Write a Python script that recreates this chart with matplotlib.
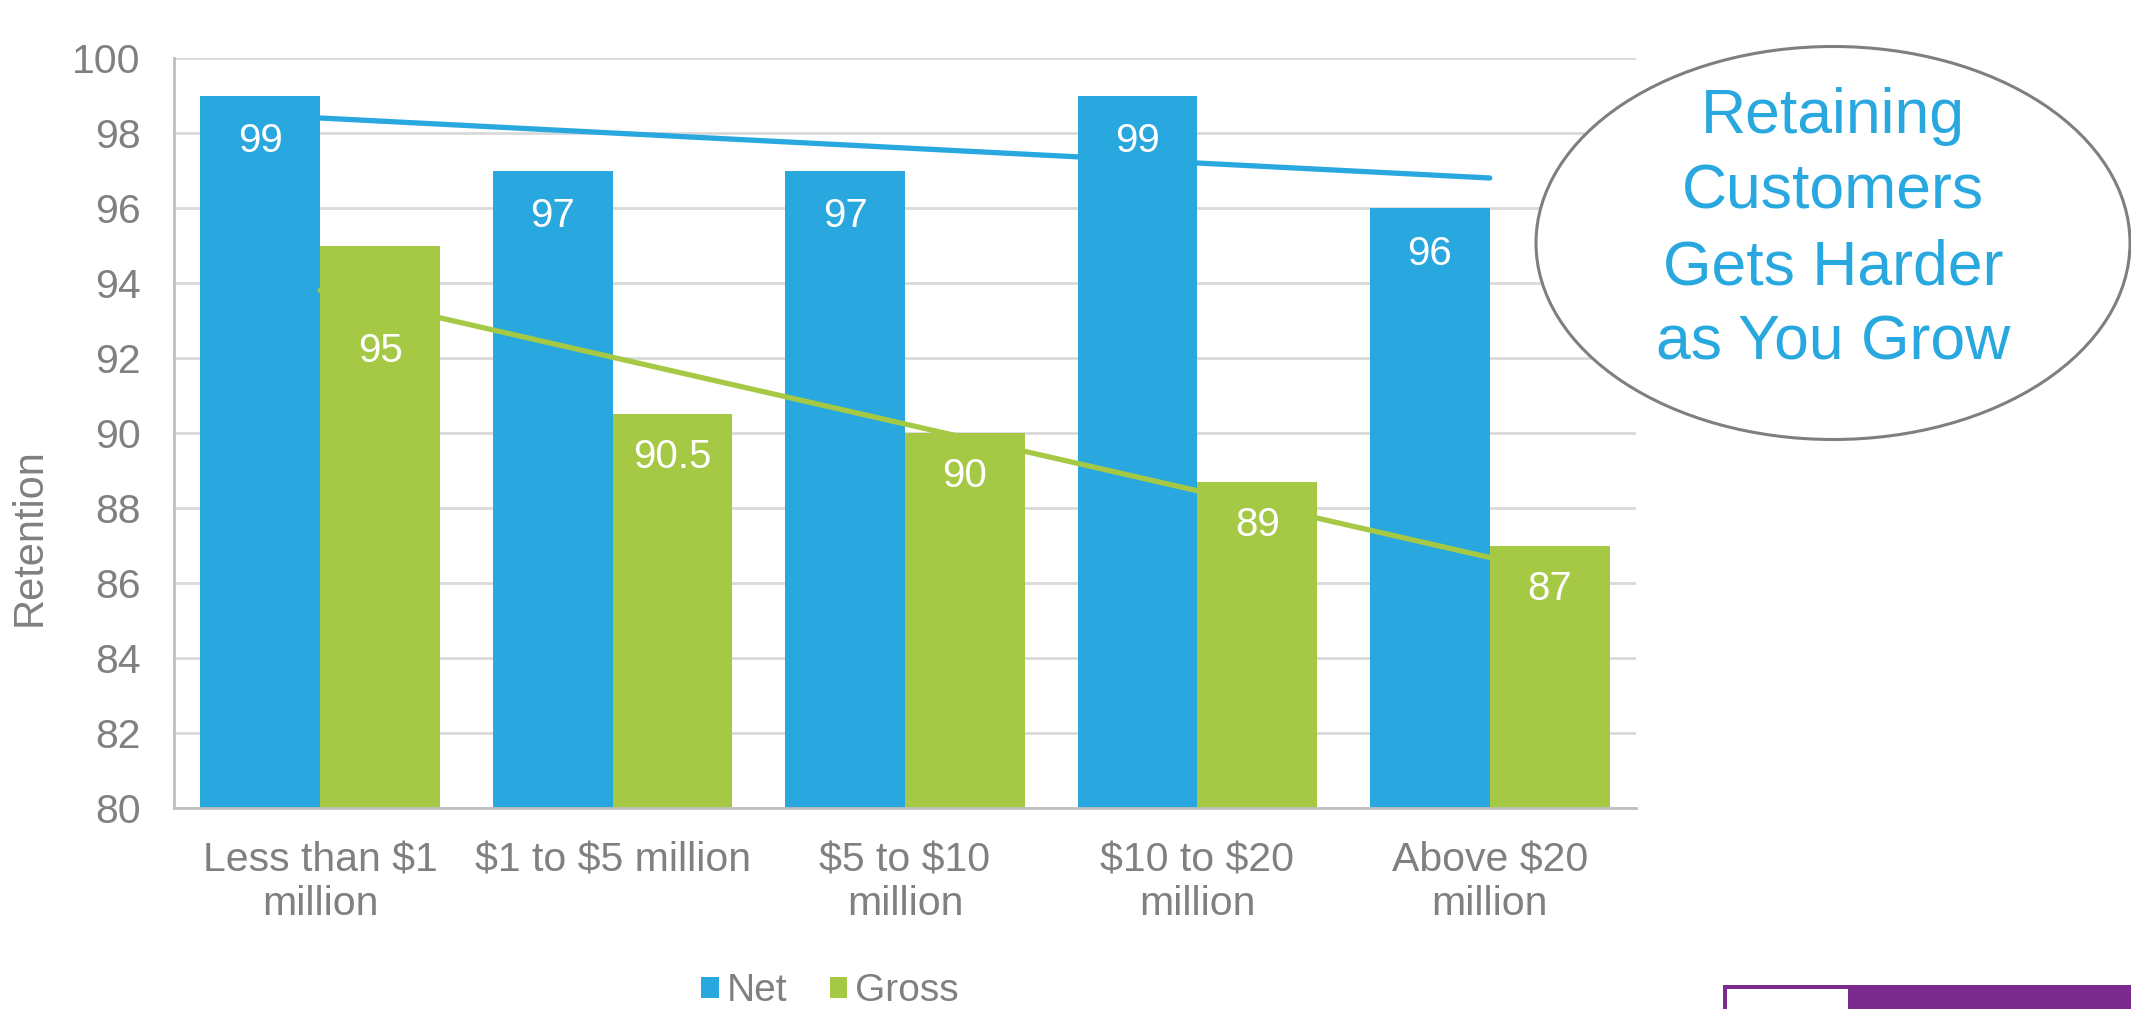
import numpy as np
import matplotlib
matplotlib.use("Agg")
import matplotlib.pyplot as plt
from matplotlib.patches import Ellipse, Rectangle

plt.rcParams['font.family'] = ['Liberation Sans', 'DejaVu Sans']
plt.rcParams['text.parse_math'] = False

# data
categories = ["Less than $1\nmillion", "$1 to $5 million", "$5 to $10\nmillion",
              "$10 to $20\nmillion", "Above $20\nmillion"]
net = [99, 97, 97, 99, 96]
gross = [95, 90.5, 90, 88.7, 87]
net_labels = ["99", "97", "97", "99", "96"]
gross_labels = ["95", "90.5", "90", "89", "87"]

blue = '#29A8E0'
green = '#A5C945'
grey = '#808080'

W, H = 2131, 1009
fig = plt.figure(figsize=(W / 100, H / 100), dpi=100)
ax = fig.add_axes([174 / W, 1 - 808 / H, 1462 / W, 750 / H])

x = np.arange(len(categories))
bw = 0.41
ax.bar(x - bw / 2, net, bw, color=blue, label="Net", zorder=2)
ax.bar(x + bw / 2, gross, bw, color=green, label="Gross", zorder=2)

# linear trendlines
for vals, col in [(net, blue), (gross, green)]:
    k, b = np.polyfit(x, vals, 1)
    ax.plot(x, k * x + b, color=col, lw=3.8, solid_capstyle='round', zorder=3)

# data labels (the 95 label was nudged down in the original)
gross_drop = [76, 31, 31, 31, 31]
for i in range(len(x)):
    ax.annotate(net_labels[i], (x[i] - bw / 2, net[i]), xytext=(0, -33),
                textcoords='offset points', ha='center', va='center',
                color='white', fontsize=29, zorder=4)
    ax.annotate(gross_labels[i], (x[i] + bw / 2, gross[i]), xytext=(0, -gross_drop[i]),
                textcoords='offset points', ha='center', va='center',
                color='white', fontsize=29, zorder=4)

ax.set_xlim(-0.5, len(x) - 0.5)
ax.set_ylim(80, 100)
ax.set_yticks(np.arange(80, 101, 2))
ax.set_xticks(x)
ax.set_xticklabels(categories, linespacing=1.2)
ax.tick_params(axis='both', length=0, labelsize=29.5, labelcolor=grey)
ax.tick_params(axis='x', pad=24)
ax.tick_params(axis='y', pad=24)
ax.grid(axis='y', color='#D9D9D9', lw=2, zorder=0)
for s in ['top', 'right']:
    ax.spines[s].set_visible(False)
for s in ['left', 'bottom']:
    ax.spines[s].set_color('#BFBFBF')
    ax.spines[s].set_linewidth(2)

fig.text(30 / W, 1 - 537 / H, "Retention", rotation=90, ha='center', va='center',
         fontsize=30, color=grey)

fig.legend(loc='center', bbox_to_anchor=(830 / W, 1 - 991 / H), ncol=2, frameon=False,
           fontsize=28, labelcolor=grey, handlelength=0.45, handleheight=0.45,
           handletextpad=0.2, columnspacing=1.1, borderpad=0)

# callout ellipse
ell = Ellipse((1833 / W, 1 - 243 / H), 594 / W, 393 / H, transform=fig.transFigure,
              facecolor='white', edgecolor='#7F7F7F', lw=2.2, zorder=5)
fig.add_artist(ell)
fig.text(1833 / W, 1 - 230 / H, "Retaining\nCustomers\nGets Harder\nas You Grow",
         ha='center', va='center', multialignment='center', fontsize=45,
         color=blue, linespacing=1.36, zorder=6)

# purple corner logo bar
fig.add_artist(Rectangle((1723 / W, 0), (W - 1723) / W, 24 / H, transform=fig.transFigure,
                         facecolor='#7B2A8D', edgecolor='none'))
fig.add_artist(Rectangle((1727 / W, 0), 121 / W, 20 / H, transform=fig.transFigure,
                         facecolor='white', edgecolor='none'))

fig.savefig("out.png", dpi=100)
